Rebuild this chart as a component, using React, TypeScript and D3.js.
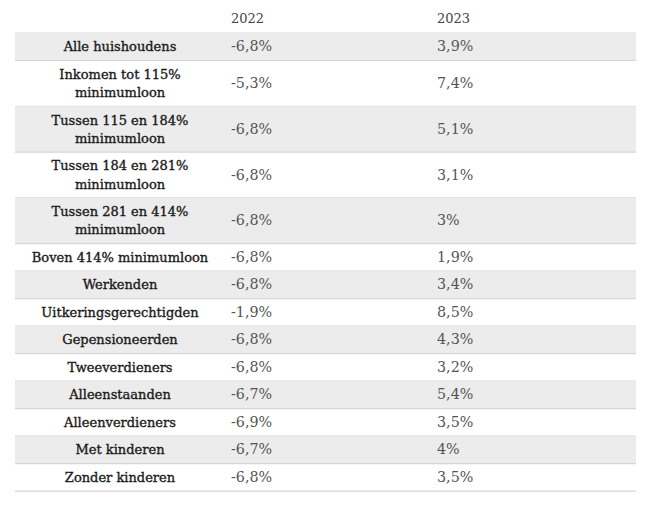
import React from "react";
import * as d3 from "d3";

const headers = ["", "2022", "2023"];
const categories = [
  ["Alle huishoudens"],
  ["Inkomen tot 115%", "minimumloon"],
  ["Tussen 115 en 184%", "minimumloon"],
  ["Tussen 184 en 281%", "minimumloon"],
  ["Tussen 281 en 414%", "minimumloon"],
  ["Boven 414% minimumloon"],
  ["Werkenden"],
  ["Uitkeringsgerechtigden"],
  ["Gepensioneerden"],
  ["Tweeverdieners"],
  ["Alleenstaanden"],
  ["Alleenverdieners"],
  ["Met kinderen"],
  ["Zonder kinderen"],
];
const values2022 = ["-6,8%", "-5,3%", "-6,8%", "-6,8%", "-6,8%", "-6,8%", "-6,8%", "-1,9%", "-6,8%", "-6,8%", "-6,7%", "-6,9%", "-6,7%", "-6,8%"];
const values2023 = ["3,9%", "7,4%", "5,1%", "3,1%", "3%", "1,9%", "3,4%", "8,5%", "4,3%", "3,2%", "5,4%", "3,5%", "4%", "3,5%"];

const W = 658, H = 512;
const left = 15, right = 636;
const headerBottom = 33;
const lineH = 18.3, padH = 9.2;

export default function App() {
  const heights = categories.map((c) => padH + c.length * lineH);
  const tops = [headerBottom, ...Array.from(d3.cumsum(heights)).map((v) => headerBottom + v)];
  const x = d3.scaleOrdinal<string, number>().domain(["label", "2022", "2023"]).range([left, 225, 431]);
  const labelCenter = (left + (x("2022") as number)) / 2;
  const serif = "'DejaVu Serif', 'Liberation Serif', serif";
  return (
    <svg width={W} height={H} style={{ position: "absolute", left: 0, top: 0, background: "#fff" }}>
      {headers.slice(1).map((h) => (
        <text key={h} x={(x(h) as number) + 6} y={22.5} fontFamily={serif} fontSize={13} fill="#444">{h}</text>
      ))}
      <line x1={left} x2={right} y1={headerBottom} y2={headerBottom} stroke="#d6d6d6" strokeWidth={1.2} />
      {categories.map((c, i) => {
        const y0 = tops[i];
        const h = heights[i];
        const cy = y0 + h / 2;
        return (
          <g key={i}>
            {i % 2 === 0 && <rect x={left} y={y0} width={right - left} height={h} fill="#ececec" />}
            <line x1={left} x2={right} y1={y0 + h} y2={y0 + h} stroke="#d6d6d6" strokeWidth={1.2} />
            {c.map((t, j) => (
              <text key={j} x={labelCenter} y={cy + (j - (c.length - 1) / 2) * lineH + 4.5} textAnchor="middle"
                fontFamily={serif} fontSize={13} fill="#1a1a1a" stroke="#1a1a1a" strokeWidth={0.35}>{t}</text>
            ))}
            <text x={(x("2022") as number) + 6} y={cy + 4.5} fontFamily={serif} fontSize={14.3} fill="#555">{values2022[i]}</text>
            <text x={(x("2023") as number) + 6} y={cy + 4.5} fontFamily={serif} fontSize={14.3} fill="#555">{values2023[i]}</text>
          </g>
        );
      })}
    </svg>
  );
}
